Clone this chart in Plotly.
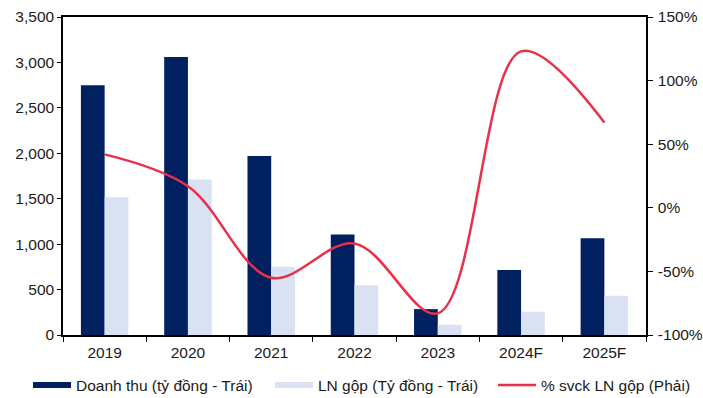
import plotly.graph_objects as go

# Categories and series
years = ["2019", "2020", "2021", "2022", "2023", "2024F", "2025F"]
revenue = [2750, 3060, 1970, 1105, 285, 715, 1065]          # Doanh thu (tỷ đồng)
gross_profit = [1515, 1712, 752, 548, 113, 257, 433]        # LN gộp (tỷ đồng)
gp_growth = [0.42, 0.17, -0.55, -0.28, -0.83, 1.23, 0.67]   # % svck LN gộp

# Right-axis ticks
pct_ticks = [-1.0, -0.5, 0.0, 0.5, 1.0, 1.5]
pct_labels = ["-100%", "-50%", "0%", "50%", "100%", "150%"]

NAVY = "#002060"
LIGHT = "#D9E1F2"
RED = "#E8304A"
FONT = "Liberation Sans, Arial, sans-serif"
TXT = "#1a1a1a"
FS = 15.5

fig = go.Figure()

fig.add_trace(go.Bar(x=years, y=revenue, marker=dict(color=NAVY, line=dict(width=0)),
                     showlegend=False, yaxis="y"))
fig.add_trace(go.Bar(x=years, y=gross_profit, marker=dict(color=LIGHT, line=dict(width=0)),
                     showlegend=False, yaxis="y"))
fig.add_trace(go.Scatter(x=years, y=gp_growth, mode="lines",
                         line=dict(color=RED, width=2.5, shape="spline", smoothing=1.0),
                         showlegend=False, yaxis="y2"))

# Legend entries drawn as wide swatches, one legend box each
legend_items = [("Doanh thu (tỷ đồng - Trái)", NAVY, 6, "legend", -0.06),
                ("LN gộp (Tỷ đồng - Trái)", LIGHT, 6, "legend2", 0.355),
                ("% svck LN gộp (Phải)", RED, 2.5, "legend3", 0.7376)]
legend_layout = {}
for name, color, w, lg, lx in legend_items:
    fig.add_trace(go.Scatter(x=[None], y=[None], mode="lines", name=name,
                             line=dict(color=color, width=w), yaxis="y", legend=lg))
    legend_layout[lg] = dict(orientation="h", x=lx, xanchor="left", y=-0.105, yanchor="top",
                             itemwidth=38, font=dict(size=FS, color=TXT),
                             bgcolor="rgba(0,0,0,0)")

fig.update_layout(
    width=703, height=398,
    margin=dict(l=63, r=57, t=17, b=63, autoexpand=False),
    paper_bgcolor="white", plot_bgcolor="white",
    barmode="group", bargap=0.43, bargroupgap=0,
    font=dict(family=FONT, size=FS, color=TXT),
    xaxis=dict(
        type="category", showline=True, linecolor="black", linewidth=1.5, mirror=True,
        ticks="outside", tickson="boundaries", ticklen=5, tickcolor="black",
        showgrid=False, tickfont=dict(size=FS, color=TXT), ticklabelstandoff=3,
    ),
    yaxis=dict(
        range=[0, 3500], dtick=500, tickformat=",d", showgrid=False, zeroline=False,
        showline=True, linecolor="black", linewidth=1.5,
        ticks="outside", ticklen=4, tickcolor="black",
        tickfont=dict(size=FS, color=TXT),
    ),
    yaxis2=dict(
        overlaying="y", side="right", range=[-1, 1.5],
        tickmode="array", tickvals=pct_ticks, ticktext=pct_labels,
        showgrid=False, zeroline=False, showline=True, linecolor="black", linewidth=1.5,
        ticks="outside", ticklen=5, tickcolor="black",
        tickfont=dict(size=FS, color=TXT), ticklabelstandoff=2,
    ),
    **legend_layout,
)

fig.write_html("out.html")
